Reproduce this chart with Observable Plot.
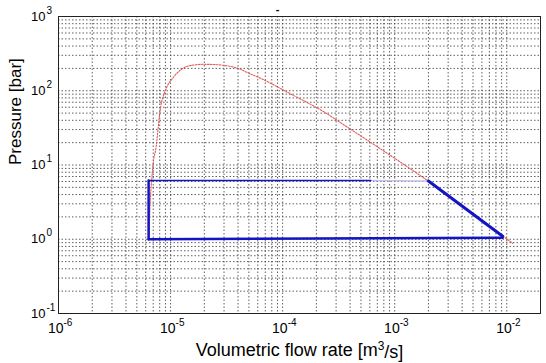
<!DOCTYPE html>
<html>
<head>
<meta charset="utf-8">
<script src="https://cdn.jsdelivr.net/npm/d3@7"></script>
<script src="https://cdn.jsdelivr.net/npm/@observablehq/plot@0.6"></script>
<style>
  html, body { margin: 0; padding: 0; background: white; }
  #chart svg { display: block; }
</style>
</head>
<body>
<div id="chart"></div>
<script>
// Tick labels (decades)
const xMajor = [1e-6, 1e-5, 1e-4, 1e-3, 1e-2];
const xExp = ["-6", "-5", "-4", "-3", "-2"];
const yMajor = [1e-1, 1, 10, 100, 1000];
const yExp = ["-1", "0", "1", "2", "3"];

// Red curve
const redX = [6.4e-6, 6.6e-6, 6.8e-6, 7.05e-6, 7.35e-6, 8.15e-6, 9.0e-6, 1.06e-5, 1.2e-5, 1.42e-5, 1.7e-5, 1.97e-5, 2.5e-5, 2.97e-5, 3.97e-5, 5e-5, 6.37e-5, 8.5e-5, 1.11e-4, 2.19e-4, 4e-4, 7.8e-4, 2.0e-3, 5e-3, 1.13e-2];
const redY = [1.0, 3.5, 6.6, 11.6, 15.8, 60, 101, 152, 185, 214, 224, 227, 225, 220, 201, 172, 147, 118, 95, 55, 30.6, 15.8, 6.04, 2.2, 0.88];

// Blue segments
const vertX = [6.37e-6, 6.37e-6], vertY = [1.0, 6.2];
const topX = [6.37e-6, 6.1e-4], topY = [6.2, 6.2];
const fadeX = [6.1e-4, 2.0e-3], fadeY = [6.2, 6.1];
const bottomX = [6.37e-6, 9.2e-3], bottomY = [1.0, 1.05];
const diagX = [2.0e-3, 9.2e-3], diagY = [6.1, 1.1];

const pts = (xs, ys) => xs.map((x, i) => ({x, y: ys[i]}));

// minor grid positions
const xGrid = [];
xMajor.forEach(d => { for (let k = 1; k <= 9; k++) { const v = d * k; if (v <= 2.0001e-2) xGrid.push(v); } });
xGrid.push(2e-2);
const yGrid = [];
yMajor.forEach(d => { for (let k = 1; k <= 9; k++) { const v = d * k; if (v <= 1000.001) yGrid.push(v); } });

const gridStyle = {stroke: "#3a3a3a", strokeWidth: 1, strokeOpacity: 0.8, strokeDasharray: "1.5,2"};
const blue = "#1414c4";

const chart = Plot.plot({
  width: 546,
  height: 363,
  marginLeft: 58,
  marginRight: 6,
  marginTop: 16,
  marginBottom: 50,
  x: {type: "log", domain: [1e-6, 2e-2], axis: null},
  y: {type: "log", domain: [0.1, 1000], axis: null},
  style: {fontFamily: "'Liberation Sans', Arial, sans-serif", background: "white", color: "black"},
  marks: [
    Plot.ruleX(xGrid, {x: d => d, ...gridStyle}),
    Plot.ruleY(yGrid, {y: d => d, ...gridStyle}),
    Plot.frame({stroke: "#222", strokeWidth: 1}),
    Plot.line(pts(redX, redY), {x: "x", y: "y", stroke: "#e45a5a", strokeWidth: 1.1, strokeDasharray: "1.6,1.4", curve: "monotone-x"}),
    Plot.line(pts(fadeX, fadeY), {x: "x", y: "y", stroke: "#c4c4f2", strokeWidth: 1.5}),
    Plot.line(pts(topX, topY), {x: "x", y: "y", stroke: blue, strokeWidth: 1.5}),
    Plot.line(pts(vertX, vertY), {x: "x", y: "y", stroke: blue, strokeWidth: 2.5}),
    Plot.line(pts(bottomX, bottomY), {x: "x", y: "y", stroke: blue, strokeWidth: 2.5}),
    Plot.line(pts(diagX, diagY), {x: "x", y: "y", stroke: blue, strokeWidth: 3}),
    // x tick labels
    Plot.text(xMajor, {x: d => d, text: () => "10", frameAnchor: "bottom", dy: 19, dx: 5, lineAnchor: "bottom", textAnchor: "end", fontSize: 14, fill: "black"}),
    Plot.text(xMajor, {x: d => d, text: (d, i) => xExp[i], frameAnchor: "bottom", dy: 12, dx: 5, lineAnchor: "bottom", textAnchor: "start", fontSize: 10, fill: "black"}),
    // y tick labels
    Plot.text(yMajor, {y: d => d, text: () => "10", frameAnchor: "left", dx: -13, textAnchor: "end", fontSize: 13, fill: "black"}),
    Plot.text(yMajor, {y: d => d, text: (d, i) => yExp[i], frameAnchor: "left", dx: -12, dy: -6, textAnchor: "start", fontSize: 10, fill: "black"}),
    // titles
    Plot.text(["Volumetric flow rate [m³/s]"], {text: d => d, frameAnchor: "bottom", dy: 42, lineAnchor: "bottom", fontSize: 18, fill: "black"}),
    Plot.text(["Pressure [bar]"], {text: d => d, frameAnchor: "left", dx: -43, rotate: -90, fontSize: 17, fill: "black"}),
    Plot.text(["-"], {text: d => d, frameAnchor: "top", dx: -22, dy: -11, fontSize: 11, fontWeight: "bold", fill: "black"})
  ]
});

// superscript in x title
d3.select(chart).selectAll("text").each(function() {
  const t = d3.select(this);
  if (t.text() === "Volumetric flow rate [m³/s]") {
    t.text(null);
    t.append("tspan").text("Volumetric flow rate [m");
    t.append("tspan").attr("dy", "-0.45em").attr("font-size", "12").text("3");
    t.append("tspan").attr("dy", "0.45em").text("/s]");
  }
});

document.getElementById("chart").appendChild(chart);
</script>
</body>
</html>
